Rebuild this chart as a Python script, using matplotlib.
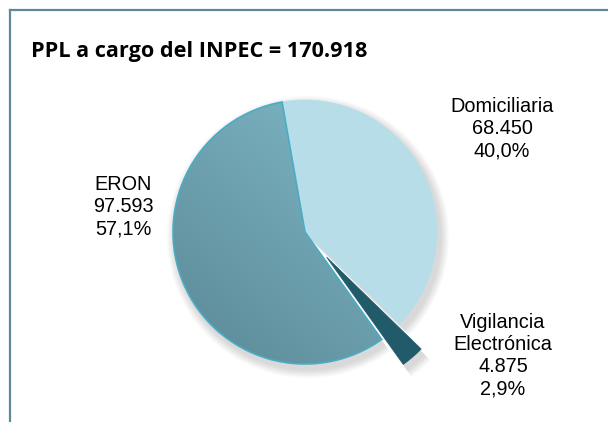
import numpy as np
import matplotlib
matplotlib.use("Agg")
import matplotlib.pyplot as plt
from matplotlib.lines import Line2D
from matplotlib.patches import Wedge

# ---- data ----
title = "PPL a cargo del INPEC = 170.918"
categories = ["Domiciliaria", "Vigilancia\nElectrónica", "ERON"]
values = [68450, 4875, 97593]
value_labels = ["68.450", "4.875", "97.593"]
pct_labels = ["40,0%", "2,9%", "57,1%"]

colors = ["#b7dee8", "#215a69", "#77b0bf"]

W, H = 608, 422
fig = plt.figure(figsize=(W / 100, H / 100), dpi=100)
ax = fig.add_axes([0, 0, 1, 1])
ax.set_xlim(0, W)
ax.set_ylim(0, H)
ax.set_aspect("equal")
ax.axis("off")

cx, cy, R = 305, H - 232, 132
explode = [0, 0.25 * R, 0]

# soft shadow
for i in range(10):
    ax.pie(values, radius=R + 1 + i * 0.9, center=(cx + 3, cy - 5), startangle=100,
           counterclock=False, explode=explode, colors=["#808080"] * 3,
           wedgeprops=dict(alpha=0.03, linewidth=0), frame=True)

wedges, _ = ax.pie(values, radius=R, center=(cx, cy), startangle=100,
                   counterclock=False, explode=explode, colors=colors,
                   wedgeprops=dict(linewidth=0), frame=True)
wedges[0].set_edgecolor("#b7dee8")
wedges[0].set_linewidth(0.5)
wedges[1].set_edgecolor("#215a69")
wedges[1].set_linewidth(0.5)

# gradient for ERON
n = 200
xs = np.linspace(0, 1, n)
ys = np.linspace(0, 1, n)
X, Y = np.meshgrid(xs, ys)
t = np.clip((X * 0.45 + Y * 0.55), 0, 1)
c0 = np.array(matplotlib.colors.to_rgb("#5b8996"))
c1 = np.array(matplotlib.colors.to_rgb("#82bccb"))
img = c0[None, None, :] * (1 - t[..., None]) + c1[None, None, :] * t[..., None]
im = ax.imshow(img, extent=[cx - R, cx + R, cy - R, cy + R], origin="lower",
               zorder=wedges[2].get_zorder() + 0.1, interpolation="bilinear")
im.set_clip_path(wedges[2])
ax.set_xlim(0, W)
ax.set_ylim(0, H)

w2 = wedges[2]
outline = Wedge(w2.center, w2.r, w2.theta1, w2.theta2, facecolor="none",
                edgecolor="#4bacc6", linewidth=1.2, zorder=im.get_zorder() + 0.1)
ax.add_patch(outline)

# labels
lab_font = dict(family=["Liberation Sans", "DejaVu Sans"], fontsize=14.3,
                color="#000000", ha="center", va="center", linespacing=1.2)
ax.text(502, H - 129, f"{categories[0]}\n{value_labels[0]}\n{pct_labels[0]}", **lab_font)
ax.text(503, H - 356, f"{categories[1]}\n{value_labels[1]}\n{pct_labels[1]}", **lab_font)
ax.text(123, H - 207, f"{categories[2]}\n{value_labels[2]}\n{pct_labels[2]}", **lab_font)

# title
ax.text(31, H - 51, title, fontsize=15.6, fontweight="bold",
        family=["Open Sans", "DejaVu Sans"], ha="left", va="center", color="#000000")

# frame lines
ax.add_line(Line2D([10, W], [H - 10, H - 10], color="#5d8a97", linewidth=1.6))
ax.add_line(Line2D([10, 10], [H - 10, 0], color="#5d8a97", linewidth=1.6))

fig.savefig("out.png", dpi=100)
